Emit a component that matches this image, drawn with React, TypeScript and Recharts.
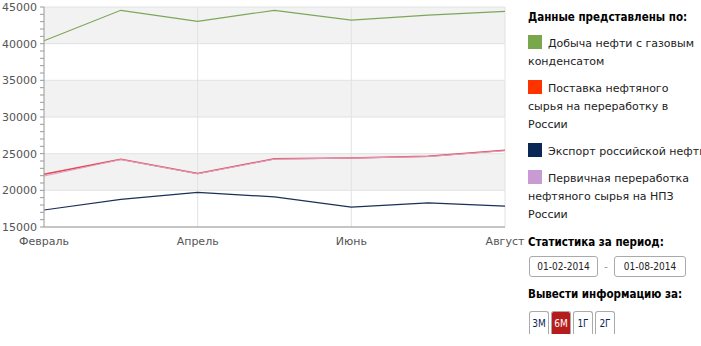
import React from 'react';
import { LineChart, Line, XAxis, YAxis, ReferenceArea, ReferenceLine } from 'recharts';

const months = ['Февраль', 'Март', 'Апрель', 'Май', 'Июнь', 'Июль', 'Август'];
const oilProduction = [40400, 44550, 43050, 44550, 43200, 43900, 44400];
const refiningSupply = [22200, 24250, 22300, 24300, 24400, 24650, 25450];
const exportOil = [17320, 18770, 19730, 19100, 17700, 18300, 17850];
const primaryRefining = [21950, 24200, 22250, 24250, 24400, 24600, 25400];

const yMajorTicks = [15000, 20000, 25000, 30000, 35000, 40000, 45000];
const yMinorTicks = [15000, 16000, 17000, 18000, 19000, 20000, 21000, 22000, 23000, 24000, 25000, 26000, 27000, 28000, 29000, 30000, 31000, 32000, 33000, 34000, 35000, 36000, 37000, 38000, 39000, 40000, 41000, 42000, 43000, 44000, 45000];
const shadedBands = [[40000, 45000], [30000, 35000], [20000, 25000]];
const verticalGridMonths = ['Апрель', 'Июнь', 'Август'];

const legendItems = [
  { name: 'Добыча нефти с газовым конденсатом', color: '#78a84b' },
  { name: 'Поставка нефтяного сырья на переработку в России', color: '#ff3300' },
  { name: 'Экспорт российской нефти', color: '#0a2856' },
  { name: 'Первичная переработка нефтяного сырья на НПЗ России', color: '#c99bd3' },
];
const periodStart = '01-02-2014';
const periodEnd = '01-08-2014';
const periodButtons = ['3М', '6М', '1Г', '2Г'];

const data = months.map((m, i) => ({
  month: m,
  oil: oilProduction[i],
  supply: refiningSupply[i],
  exp: exportOil[i],
  primary: primaryRefining[i],
}));

const panelFont = '"DejaVu Sans", sans-serif';
const condFont = '"DejaVu Sans Condensed", "DejaVu Sans", sans-serif';

export default function App() {
  return (
    <div style={{ position: 'absolute', left: 0, top: 0, width: 701, height: 346, overflow: 'hidden', background: '#fff' }}>
      <div style={{ position: 'absolute', left: 0, top: 0 }}>
        <LineChart width={525} height={260} data={data} margin={{ top: 7, right: 20, bottom: 0, left: 0 }}>
          {shadedBands.map((b, i) => (
            <ReferenceArea key={'b' + i} y1={b[0]} y2={b[1]} fill="#f2f2f2" fillOpacity={1} stroke="none" ifOverflow="visible" />
          ))}
          {yMajorTicks.map((t) => (
            <ReferenceLine key={'h' + t} y={t} stroke="#e2e2e2" strokeWidth={1} />
          ))}
          {verticalGridMonths.map((m) => (
            <ReferenceLine key={'v' + m} x={m} stroke="#e2e2e2" strokeWidth={1} />
          ))}
          <XAxis
            dataKey="month"
            interval={1}
            tickLine={false}
            axisLine={{ stroke: '#999' }}
            tick={{ fill: '#555', fontSize: 11, fontFamily: panelFont }}
            tickSize={6}
            tickMargin={4}
            height={33}
            padding={{ left: 0, right: 0 }}
          />
          <YAxis
            domain={[15000, 45000]}
            ticks={yMinorTicks}
            interval={0}
            tickFormatter={(v: number) => (yMajorTicks.includes(v) ? String(v) : '')}
            width={44}
            tickSize={4}
            tickMargin={3}
            axisLine={{ stroke: '#999' }}
            tickLine={{ stroke: '#999' }}
            tick={{ fill: '#555', fontSize: 11, fontFamily: panelFont }}
            allowDataOverflow
          />
          <Line dataKey="oil" stroke="#7ea65a" strokeWidth={1.2} dot={false} isAnimationActive={false} />
          <Line dataKey="supply" stroke="#e8474f" strokeWidth={1.5} dot={false} isAnimationActive={false} />
          <Line dataKey="exp" stroke="#1c2f55" strokeWidth={1.2} dot={false} isAnimationActive={false} />
          <Line dataKey="primary" stroke="#d7a0c6" strokeWidth={1} dot={false} isAnimationActive={false} />
        </LineChart>
      </div>
      <div style={{ position: 'absolute', left: 528, top: 8, width: 185, fontFamily: panelFont, fontSize: 11, color: '#222', lineHeight: '18px' }}>
        <div style={{ fontWeight: 'bold', fontSize: 11.5, color: '#000', fontFamily: condFont }}>Данные представлены по:</div>
        {legendItems.map((it) => (
          <div key={it.name} style={{ marginTop: 9, width: it.name.length > 30 ? 172 : 185 }}>
            <span style={{ display: 'inline-block', width: 14, height: 14, background: it.color, verticalAlign: '-2px', marginRight: 6 }} />
            {it.name}
          </div>
        ))}
        <div style={{ marginTop: 9, fontWeight: 'bold', fontSize: 11.5, color: '#000', fontFamily: condFont }}>Статистика за период:</div>
        <div style={{ marginTop: 5, display: 'flex', alignItems: 'center', height: 21 }}>
          <div style={{ marginLeft: 1, width: 67, height: 19, border: '1px solid #aaa', borderRadius: 3, textAlign: 'center', lineHeight: '19px', fontSize: 10, fontFamily: condFont, color: '#222' }}>{periodStart}</div>
          <div style={{ width: 16, textAlign: 'center', color: '#999' }}>-</div>
          <div style={{ width: 70, height: 19, border: '1px solid #aaa', borderRadius: 3, textAlign: 'center', lineHeight: '19px', fontSize: 10, fontFamily: condFont, color: '#222' }}>{periodEnd}</div>
        </div>
        <div style={{ marginTop: 8, fontWeight: 'bold', fontSize: 11.5, color: '#000', fontFamily: condFont }}>Вывести информацию за:</div>
        <div style={{ marginTop: 8, marginLeft: 1, display: 'flex', gap: 2 }}>
          {periodButtons.map((b, i) => (
            <div key={b} style={{ width: 18, height: 22, border: '1px solid #aaa', borderBottom: 'none', borderRadius: '3px 3px 0 0', background: i === 1 ? '#b71c1c' : '#fff', color: i === 1 ? '#fff' : '#0a2856', textAlign: 'center', lineHeight: '24px', fontSize: 10, fontFamily: condFont }}>{b}</div>
          ))}
        </div>
      </div>
    </div>
  );
}
